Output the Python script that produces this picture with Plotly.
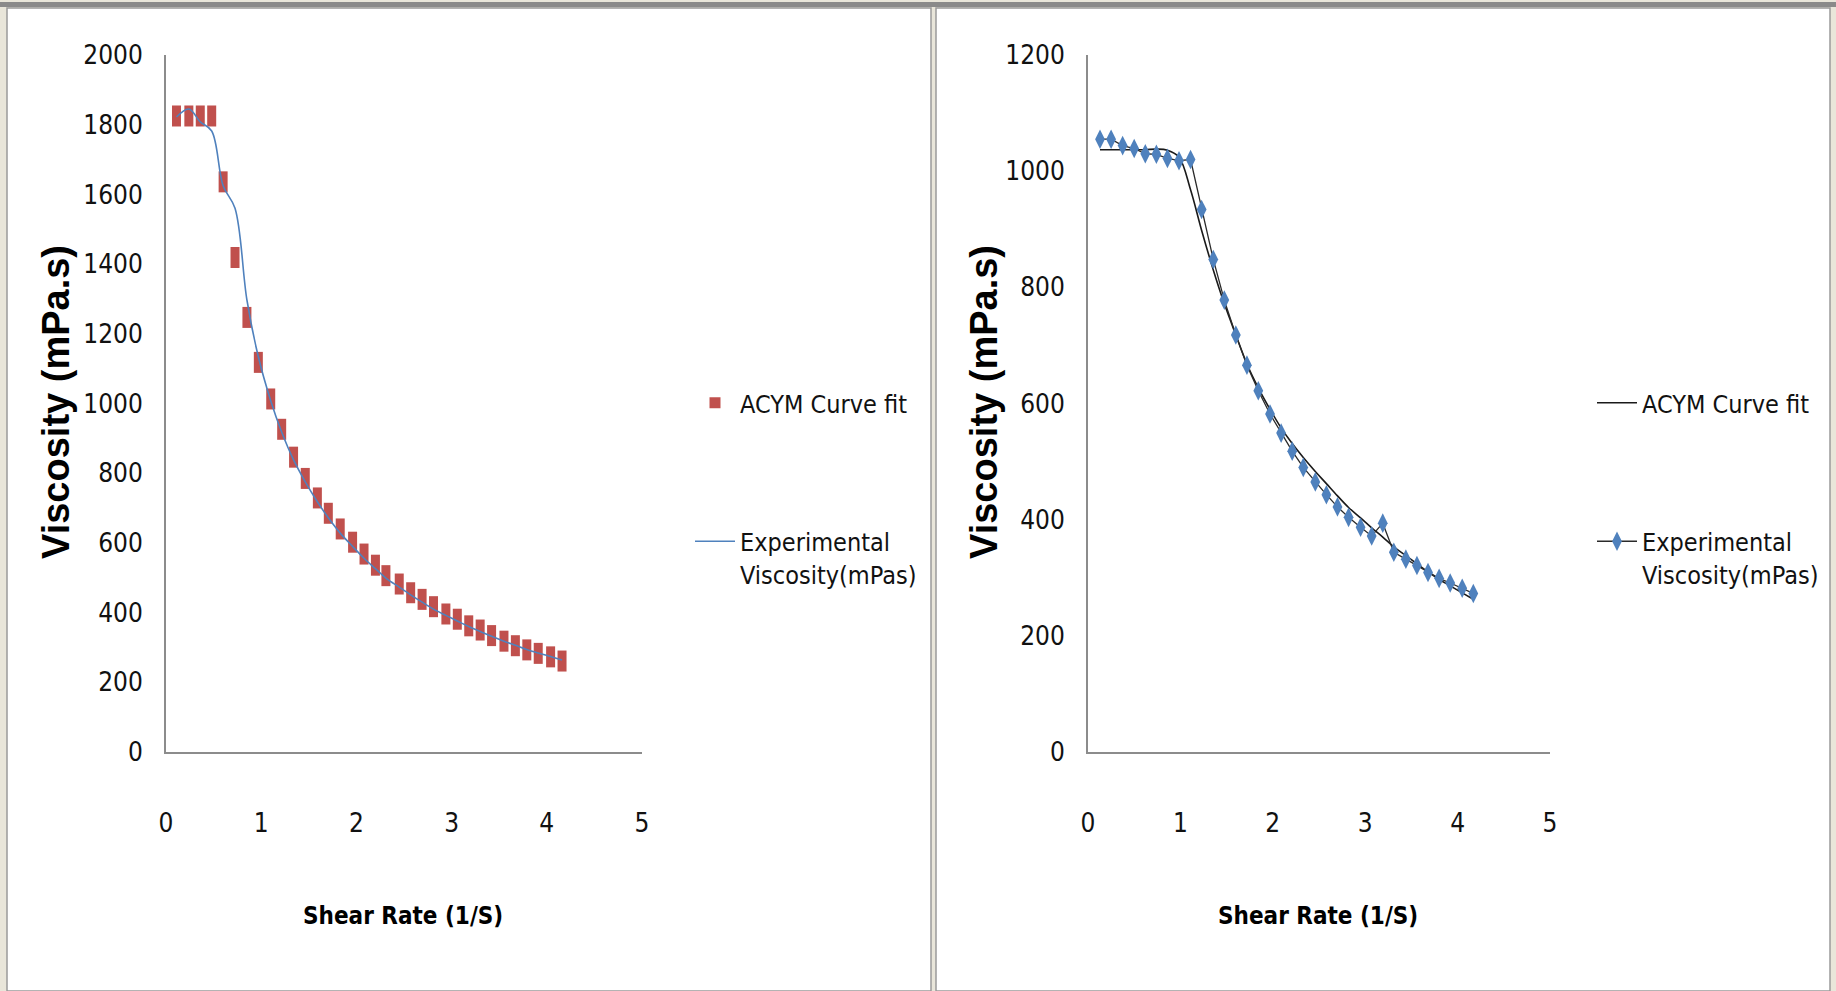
import plotly.graph_objects as go

# ---------------- data ----------------
shear_left = [0.11, 0.24, 0.36, 0.48, 0.60, 0.725, 0.85, 0.97, 1.10, 1.215, 1.34, 1.463,
              1.59, 1.705, 1.83, 1.96, 2.08, 2.20, 2.31, 2.45, 2.57, 2.69, 2.81, 2.94,
              3.06, 3.18, 3.30, 3.42, 3.55, 3.67, 3.79, 3.91, 4.04, 4.16]
acym_left = [1825, 1825, 1825, 1825, 1636, 1419, 1247, 1118, 1013, 926, 846, 785,
             729, 685, 640, 602, 568, 536, 506, 482, 457, 438, 417, 396,
             381, 362, 350, 334, 318, 305, 293, 283, 273, 261]
exp_left = [1822, 1845, 1808, 1782, 1625, 1560, 1297, 1134, 1008, 918, 838, 775,
            718, 672, 628, 590, 556, 526, 499, 473, 451, 430, 410, 392,
            376, 360, 346, 332, 318, 306, 294, 284, 274, 264]

shear_right = [0.13, 0.25, 0.375, 0.50, 0.62, 0.74, 0.86, 0.985, 1.11, 1.23, 1.356, 1.475,
               1.60, 1.72, 1.843, 1.97, 2.09, 2.21, 2.33, 2.46, 2.58, 2.70, 2.82, 2.95,
               3.07, 3.19, 3.31, 3.44, 3.56, 3.68, 3.80, 3.92, 4.05, 4.17]
exp_right = [1055, 1055, 1044, 1039, 1030, 1029, 1022, 1018, 1020, 934, 848, 778,
             718, 666, 622, 582, 549, 518, 490, 465, 443, 422, 404, 387,
             372, 394, 344, 332, 321, 309, 299, 291, 282, 273]
acym_right = [1037, 1037, 1037, 1037, 1037, 1038, 1036, 1024, 968, 898, 830, 772,
              718, 668, 627, 590, 558, 531, 507, 483, 462, 441, 421, 403,
              386, 370, 353, 338, 324, 310, 297, 286, 274, 263]

x_ticks = [0, 1, 2, 3, 4, 5]
y_ticks_left = [0, 200, 400, 600, 800, 1000, 1200, 1400, 1600, 1800, 2000]
y_ticks_right = [0, 200, 400, 600, 800, 1000, 1200]

legend_names = ["ACYM Curve fit", "Experimental<br>Viscosity(mPas)"]
x_title = "Shear Rate (1/S)"
y_title = "Viscosity (mPa.s)"

# ---------------- styling ----------------
NARROW = "Liberation Sans Narrow, Arial Narrow, DejaVu Sans Condensed, Liberation Sans, sans-serif"
WIDE = "Liberation Sans, Arial, sans-serif"
RED = "#C0504D"
BLUE = "#4F81BD"
AXIS_GREY = "#8C8C8C"

W, H = 1836, 991


def px_x(p):
    return p / W


def px_y(p):
    return 1 - p / H


fig = go.Figure()

# left chart
fig.add_trace(go.Scatter(
    x=shear_left, y=acym_left, mode="markers", name=legend_names[0], showlegend=False,
    marker=dict(symbol="line-ns", size=15, color=RED, line=dict(color=RED, width=9)),
    xaxis="x", yaxis="y"))
# legend proxy for the red markers (no data of its own)
fig.add_trace(go.Scatter(
    x=[None], y=[None], mode="markers", name=legend_names[0],
    marker=dict(symbol="square", size=11, color=RED),
    xaxis="x", yaxis="y", legend="legend", legendgroup="a1"))
fig.add_trace(go.Scatter(
    x=shear_left, y=exp_left, mode="lines", name=legend_names[1],
    line=dict(color=BLUE, width=1.6, shape="spline", smoothing=1.0),
    xaxis="x", yaxis="y", legend="legend", legendgroup="a2"))

# right chart
fig.add_trace(go.Scatter(
    x=shear_right, y=acym_right, mode="lines", name=legend_names[0],
    line=dict(color="#1a1a1a", width=1.6, shape="spline", smoothing=1.0),
    xaxis="x2", yaxis="y2", legend="legend2", legendgroup="b1"))
fig.add_trace(go.Scatter(
    x=shear_right, y=exp_right, mode="lines+markers", name=legend_names[1],
    line=dict(color="#2a2a2a", width=1.3),
    marker=dict(symbol="diamond-tall", size=14, color=BLUE, line=dict(width=0)),
    xaxis="x2", yaxis="y2", legend="legend2", legendgroup="b2"))

axis_common = dict(showgrid=False, zeroline=False, showline=True, linecolor=AXIS_GREY,
                   linewidth=2, ticks="", automargin=False,
                   tickfont=dict(family=NARROW, size=26, color="#111"))

legend_common = dict(xanchor="left", yanchor="top",
                     font=dict(family=NARROW, size=25, color="#111"),
                     bgcolor="rgba(0,0,0,0)", tracegroupgap=103, valign="top",
                     itemwidth=40, traceorder="grouped")

fig.update_layout(
    width=W, height=H,
    margin=dict(l=0, r=0, t=0, b=0, pad=0, autoexpand=False),
    paper_bgcolor="#E9E6DA",
    plot_bgcolor="rgba(0,0,0,0)",
    showlegend=True,
    xaxis=dict(domain=[px_x(166), px_x(642)], range=[0, 5], tickvals=x_ticks,
               anchor="y", ticklabelstandoff=47, **axis_common),
    yaxis=dict(domain=[px_y(752), px_y(55)], range=[0, 2000], tickvals=y_ticks_left,
               anchor="x", ticklabelstandoff=16, **axis_common),
    xaxis2=dict(domain=[px_x(1088), px_x(1550)], range=[0, 5], tickvals=x_ticks,
                anchor="y2", ticklabelstandoff=47, **axis_common),
    yaxis2=dict(domain=[px_y(752), px_y(55)], range=[0, 1200], tickvals=y_ticks_right,
                anchor="x2", ticklabelstandoff=16, **axis_common),
    legend=dict(x=px_x(690), y=px_y(380), **legend_common),
    legend2=dict(x=px_x(1592), y=px_y(380), **legend_common),
    shapes=[
        dict(type="rect", xref="paper", yref="paper", x0=0, x1=1, y0=px_y(7), y1=px_y(2),
             fillcolor="#8A8A8A", line=dict(width=0), layer="below"),
        dict(type="rect", xref="paper", yref="paper", x0=px_x(7), x1=px_x(931), y0=0, y1=px_y(8),
             fillcolor="white", line=dict(color="#9A9A9A", width=1.5), layer="below"),
        dict(type="rect", xref="paper", yref="paper", x0=px_x(936), x1=px_x(1830), y0=0, y1=px_y(8),
             fillcolor="white", line=dict(color="#9A9A9A", width=1.5), layer="below"),
    ],
    annotations=[
        dict(text=f"<b>{x_title}</b>", xref="paper", yref="paper", x=px_x(403), y=px_y(916),
             xanchor="center", yanchor="middle", showarrow=False,
             font=dict(family=NARROW, size=24, color="#000")),
        dict(text=f"<b>{x_title}</b>", xref="paper", yref="paper", x=px_x(1318), y=px_y(916),
             xanchor="center", yanchor="middle", showarrow=False,
             font=dict(family=NARROW, size=24, color="#000")),
        dict(text=f"<b>{y_title}</b>", xref="paper", yref="paper", x=px_x(56), y=px_y(402),
             xanchor="center", yanchor="middle", showarrow=False, textangle=-90,
             font=dict(family=WIDE, size=38, color="#000")),
        dict(text=f"<b>{y_title}</b>", xref="paper", yref="paper", x=px_x(984), y=px_y(402),
             xanchor="center", yanchor="middle", showarrow=False, textangle=-90,
             font=dict(family=WIDE, size=38, color="#000")),
    ],
)

fig.write_html("out.html", config={"displayModeBar": False},
               post_script="document.body.style.margin='0';")
